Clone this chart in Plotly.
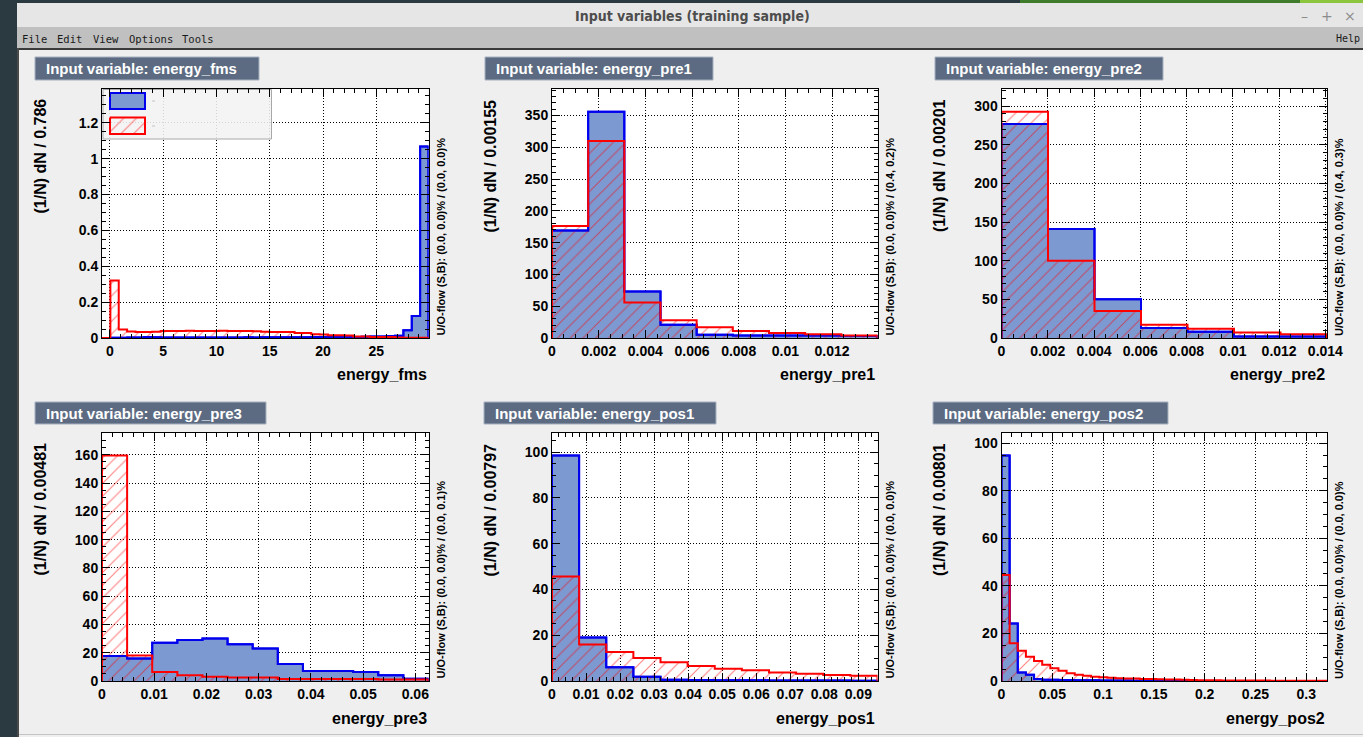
import plotly.graph_objects as go

W, H = 1363, 737

# ---------------------------------------------------------------------------
# Normalised input-variable distributions, (1/N) dN per bin (signal / background)
# ---------------------------------------------------------------------------
variables = ["energy_fms", "energy_pre1", "energy_pre2",
             "energy_pre3", "energy_pos1", "energy_pos2"]
bin_width_labels = ["0.786", "0.00155", "0.00201", "0.00481", "0.00797", "0.00801"]
bin_widths = [0.786, 0.00155, 0.00201, 0.00481, 0.00797, 0.00801]
x_mins = [-0.75, 0.0, 0.0, 0.0, 0.0, 0.0]
uoflow_labels = [
    "U/O-flow (S,B): (0.0, 0.0)% / (0.0, 0.0)%",
    "U/O-flow (S,B): (0.0, 0.0)% / (0.4, 0.2)%",
    "U/O-flow (S,B): (0.0, 0.0)% / (0.4, 0.3)%",
    "U/O-flow (S,B): (0.0, 0.0)% / (0.0, 0.1)%",
    "U/O-flow (S,B): (0.0, 0.0)% / (0.0, 0.0)%",
    "U/O-flow (S,B): (0.0, 0.0)% / (0.0, 0.0)%",
]

fms_sig = [0, 0.002, 0.002, 0.003, 0.003, 0.005, 0.004, 0.003, 0.003, 0.003,
           0.003, 0.003, 0.003, 0.003, 0.003, 0.003, 0.003, 0.004, 0.003, 0.004,
           0.004, 0.004, 0.004, 0.004, 0.004, 0.005, 0.005, 0.005, 0.005, 0.006,
           0.006, 0.007, 0.008, 0.009, 0.011, 0.012, 0.043, 0.123, 1.068]
fms_bkg = [0, 0.32, 0.047, 0.036, 0.034, 0.034, 0.035, 0.039, 0.039, 0.039,
           0.040, 0.039, 0.039, 0.039, 0.040, 0.039, 0.039, 0.039, 0.038, 0.035,
           0.034, 0.034, 0.033, 0.028, 0.028, 0.021, 0.020, 0.015, 0.015, 0.014,
           0.009, 0.009, 0.006, 0.006, 0.006, 0.003, 0.002, 0.002, 0.002]

pre1_sig = [169, 356, 73, 21, 5, 4, 4, 4, 3]
pre1_bkg = [176, 310, 56, 28, 17, 11, 8, 6, 4]

pre2_sig = [277, 141, 50, 13, 8, 2, 2]
pre2_bkg = [293, 100, 35, 17, 12, 7, 5]

pre3_sig = [17.6, 16, 27, 29, 30, 26, 23, 12, 7, 7, 6.4, 4, 1.6]
pre3_bkg = [159.5, 18, 6.3, 4, 3, 2.5, 2.5, 1.5, 1.5, 1.5, 1.5, 1, 1]

pos1_sig = [98.5, 19, 6, 1.9, 0.5, 0.4, 0.3, 0.3, 0.2, 0.2, 0.2, 0.1]
pos1_bkg = [45.7, 15.9, 12.7, 10, 8.2, 6.5, 5.4, 4.7, 3.7, 3.2, 2.6, 2.3]

pos2_sig = [94.8, 24.2, 3.6, 2.6, 0.8, 0.5, 0.5, 0.4, 0.4, 0.3,
            0.3, 0.3, 0.2, 0.2, 0.2, 0.2, 0.1, 0, 0, 0,
            0, 0, 0, 0, 0, 0, 0, 0, 0, 0,
            0, 0, 0, 0, 0, 0, 0, 0, 0, 0]
pos2_bkg = [44.6, 15.9, 12.7, 10.2, 8.4, 6.8, 5.4, 4.3, 3.3, 2.6,
            2.2, 1.8, 1.6, 1.4, 1.2, 1.1, 1.0, 0.8, 0.8, 0.7,
            0.6, 0.6, 0.5, 0.4, 0.3, 0.3, 0.3, 0.2, 0.2, 0.2,
            0.2, 0.2, 0.2, 0.1, 0.1, 0.1, 0.1, 0.1, 0.1, 0.1]

signals = [fms_sig, pre1_sig, pre2_sig, pre3_sig, pos1_sig, pos2_sig]
backgrounds = [fms_bkg, pre1_bkg, pre2_bkg, pre3_bkg, pos1_bkg, pos2_bkg]

# axis tick spacing (major, minor) per panel
x_ticks = [(5, 1), (0.002, 0.0005), (0.002, 0.0005), (0.01, 0.002), (0.01, 0.002), (0.05, 0.01)]
y_ticks = [(0.2, 0.05), (50, 10), (50, 10), (20, 5), (20, 5), (20, 5)]
y_headroom = [1.3, 1.1, 1.1, 1.1, 1.1, 1.1]

# ---------------------------------------------------------------------------
# page geometry (pixels)
# ---------------------------------------------------------------------------
COLS = [(102, 428.5), (552, 877.5), (1001.5, 1327)]
ROWS = [(89, 338), (433, 681)]
TITLE_BOXES = [(35, 57, 259, 80), (485, 57, 713, 80), (935, 57, 1163, 80),
               (35, 402, 266, 424), (484, 402, 716, 424), (933, 402, 1168, 424)]

SIG_LINE = "#0000ee"
SIG_FILL = "#7d99d1"
BKG_LINE = "#ff0000"
FONT = "Liberation Sans, Arial, Helvetica, sans-serif"
CANVAS = "#efefef"


def px(x):
    return x / W


def py(y):
    return 1 - y / H


def step_outline(x0, width, values):
    edges = [x0 + width * i for i in range(len(values) + 1)]
    xs = [edges[0]] + edges[:-1] + [edges[-1], edges[-1]]
    ys = [0] + list(values) + [values[-1], 0]
    return xs, ys


HATCH = dict(shape="/", fgcolor=BKG_LINE, bgcolor="rgba(0,0,0,0)", size=9, solidity=0.12)

fig = go.Figure()
layout = dict(
    width=W, height=H, margin=dict(l=0, r=0, t=0, b=0, pad=0, autoexpand=False),
    paper_bgcolor=CANVAS, plot_bgcolor="white", showlegend=False,
    font=dict(family=FONT, color="black"),
)
shapes = []
annotations = []

for k, name in enumerate(variables):
    r, c = divmod(k, 3)
    L, R = COLS[c]
    T, B = ROWS[r]
    suffix = "" if k == 0 else str(k + 1)
    xref, yref = "x" + suffix, "y" + suffix

    sig, bkg = signals[k], backgrounds[k]
    x0, bw = x_mins[k], bin_widths[k]
    x1 = x0 + bw * len(sig)
    ymax = y_headroom[k] * max(max(sig), max(bkg))

    xs, ys_sig = step_outline(x0, bw, sig)
    _, ys_bkg = step_outline(x0, bw, bkg)

    # signal: solid blue fill
    fig.add_trace(go.Scatter(x=xs, y=ys_sig, mode="lines", fill="tozeroy",
                             fillcolor=SIG_FILL, line=dict(color=SIG_LINE, width=2, shape="hv"),
                             xaxis=xref, yaxis=yref, hoverinfo="skip"))
    # background: red hatching
    fig.add_trace(go.Scatter(x=xs, y=ys_bkg, mode="lines", fill="tozeroy",
                             fillcolor="rgba(0,0,0,0)", fillpattern=HATCH,
                             line=dict(color="rgba(0,0,0,0)", width=0, shape="hv"),
                             xaxis=xref, yaxis=yref, hoverinfo="skip"))
    fig.add_trace(go.Scatter(x=xs, y=ys_sig, mode="lines",
                             line=dict(color=SIG_LINE, width=2, shape="hv"),
                             xaxis=xref, yaxis=yref, hoverinfo="skip"))
    fig.add_trace(go.Scatter(x=xs, y=ys_bkg, mode="lines",
                             line=dict(color=BKG_LINE, width=2, shape="hv"),
                             xaxis=xref, yaxis=yref, hoverinfo="skip"))

    common = dict(showline=True, linecolor="black", linewidth=1, mirror="ticks",
                  ticks="inside", ticklen=8, tickwidth=1, tickcolor="black",
                  showgrid=True, gridcolor="black", gridwidth=1, griddash="1px,2px",
                  zeroline=False, fixedrange=True, automargin=False,
                  tickfont=dict(family=FONT, size=14, color="black", weight="bold"))
    layout["xaxis" + suffix] = dict(
        common, domain=[px(L), px(R)], anchor=yref, range=[x0, x1],
        tick0=0, dtick=x_ticks[k][0],
        minor=dict(ticks="inside", ticklen=4, dtick=x_ticks[k][1], tick0=0,
                   tickcolor="black", showgrid=False))
    layout["yaxis" + suffix] = dict(
        common, domain=[py(B), py(T)], anchor=xref, range=[0, ymax],
        tick0=0, dtick=y_ticks[k][0],
        minor=dict(ticks="inside", ticklen=4, dtick=y_ticks[k][1], tick0=0,
                   tickcolor="black", showgrid=False))

    # panel title box
    bx0, by0, bx1, by1 = TITLE_BOXES[k]
    shapes.append(dict(type="rect", xref="paper", yref="paper",
                       x0=px(bx0), x1=px(bx1), y0=py(by1), y1=py(by0),
                       fillcolor="#5c6b82", line=dict(color="#a7b1c0", width=1)))
    annotations.append(dict(xref="paper", yref="paper", x=px(bx0 + 9), y=py((by0 + by1) / 2),
                            xanchor="left", yanchor="middle", showarrow=False,
                            text="Input variable: " + name,
                            font=dict(family=FONT, size=15, color="white", weight="bold")))
    # axis titles
    annotations.append(dict(xref="paper", yref="paper", x=px(R), y=py(T + 285),
                            xanchor="right", yanchor="middle", showarrow=False,
                            text=name, font=dict(family=FONT, size=16, weight="bold")))
    annotations.append(dict(xref="paper", yref="paper", x=px(L - 62), y=py(T + 8),
                            xanchor="center", yanchor="top", showarrow=False, textangle=-90,
                            text="(1/N) dN / " + bin_width_labels[k],
                            font=dict(family=FONT, size=16, weight="bold")))
    annotations.append(dict(xref="paper", yref="paper", x=px(R + 12), y=py(B),
                            xanchor="center", yanchor="bottom", showarrow=False, textangle=-90,
                            text=uoflow_labels[k],
                            font=dict(family=FONT, size=11, weight="bold")))

# legend of the first panel: translucent box with a filled and a hatched swatch
fx0, fx1 = x_mins[0], x_mins[0] + bin_widths[0] * len(fms_sig)
fy1 = y_headroom[0] * max(max(fms_sig), max(fms_bkg))


def legend_rect(pxl, pxr, pyt, pyb):
    L, R = COLS[0]
    T, B = ROWS[0]
    ax = lambda p: fx0 + (p - L) / (R - L) * (fx1 - fx0)
    ay = lambda p: (B - p) / (B - T) * fy1
    return ([ax(pxl), ax(pxr), ax(pxr), ax(pxl), ax(pxl)],
            [ay(pyt), ay(pyt), ay(pyb), ay(pyb), ay(pyt)])


lx, ly = legend_rect(103, 271.5, 89.5, 139)
fig.add_trace(go.Scatter(x=lx, y=ly, mode="lines", fill="toself",
                         fillcolor="rgba(243,243,243,0.88)",
                         line=dict(color="#a8a8a8", width=1), xaxis="x", yaxis="y",
                         hoverinfo="skip"))
lx, ly = legend_rect(110, 145, 93, 109)
fig.add_trace(go.Scatter(x=lx, y=ly, mode="lines", fill="toself", fillcolor=SIG_FILL,
                         line=dict(color=SIG_LINE, width=2), xaxis="x", yaxis="y",
                         hoverinfo="skip"))
lx, ly = legend_rect(110, 145, 117.5, 134)
fig.add_trace(go.Scatter(x=lx, y=ly, mode="lines", fill="toself", fillcolor="rgba(0,0,0,0)",
                         fillpattern=HATCH, line=dict(color=BKG_LINE, width=2),
                         xaxis="x", yaxis="y", hoverinfo="skip"))
for yy in (101, 126):
    shapes.append(dict(type="line", xref="paper", yref="paper", x0=px(152), x1=px(155),
                       y0=py(yy), y1=py(yy), line=dict(color="#c4c4c4", width=1)))

# window frame, title bar and menu bar
frame = [
    ((0, 0, 17, H), "#2b3a40"),
    ((0, 0, W, 3), "#2b3a40"),
    ((1020, 0, 1300, 3), "#3e7b2b"),
    ((1300, 0, W, 3), "#8cc63f"),
    ((17, 3, W, 27), "#e6e6e6"),
    ((17, 27, W, 48), "#c0c0c0"),
    ((17, 48, W, 50), "#3a3a3a"),
    ((17, 48, 19, H), "#4a4a4a"),
    ((19, 734, W, 735), "#c4c4c4"),
]
for (a, b, c2, d), col in frame:
    shapes.append(dict(type="rect", xref="paper", yref="paper", layer="above",
                       x0=px(a), x1=px(c2), y0=py(d), y1=py(b),
                       fillcolor=col, line=dict(width=0)))

annotations.append(dict(xref="paper", yref="paper", x=px(692), y=py(16), showarrow=False,
                        xanchor="center", yanchor="middle", text="Input variables (training sample)",
                        font=dict(family="DejaVu Sans Condensed, Liberation Sans Narrow, sans-serif",
                                  size=14, color="#4d4d4d", weight="bold")))
for xpos, sym in ((1304, "\u2013"), (1327, "+"), (1350, "\u00d7")):
    annotations.append(dict(xref="paper", yref="paper", x=px(xpos), y=py(16), showarrow=False,
                            xanchor="center", yanchor="middle", text=sym,
                            font=dict(family="DejaVu Sans", size=14, color="#8c8c8c")))
for xpos, item in ((20, "File"), (55, "Edit"), (91, "View"), (127, "Options"), (180, "Tools")):
    annotations.append(dict(xref="paper", yref="paper", x=px(xpos), y=py(38.5), showarrow=False,
                            xanchor="left", yanchor="middle", text=item,
                            font=dict(family="DejaVu Sans Mono", size=10.5, color="#1a1a1a")))
annotations.append(dict(xref="paper", yref="paper", x=px(1362), y=py(38.5), showarrow=False,
                        xanchor="right", yanchor="middle", text="Help",
                        font=dict(family="DejaVu Sans Mono", size=10, color="#1a1a1a")))

layout["shapes"] = shapes
layout["annotations"] = annotations
fig.update_layout(**layout)
fig.write_html("out.html")
